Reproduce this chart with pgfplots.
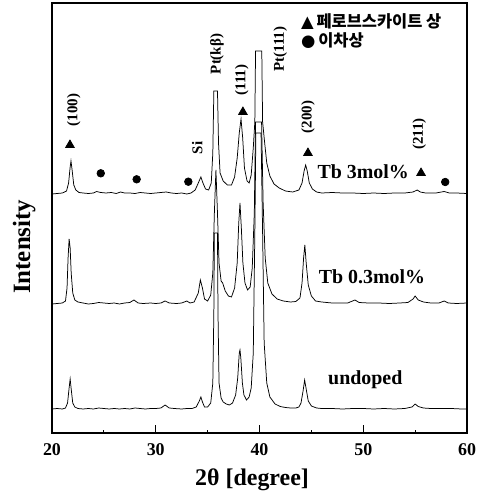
\documentclass[border=0pt]{standalone}
\usepackage{fontspec}
\setmainfont{Liberation Serif}
\newfontfamily\kr{Noto Sans CJK KR}
\newfontfamily\sym{DejaVu Sans}
\usepackage{pgfplots}
\pgfplotsset{compat=1.18}
\begin{document}
\begin{tikzpicture}
\begin{axis}[name=ax,
  width=415bp, height=430bp, scale only axis,
  xmin=20, xmax=60, ymin=0, ymax=430,
  axis line style={line width=1.2pt},
  xtick={20,30,40,50,60}, minor xtick={25,35,45,55},
  xtick pos=bottom, tick align=inside,
  major tick length=8bp, minor tick length=3.5bp,
  tick style={line width=1pt, black},
  ytick=\empty,
  /pgf/number format/assume math mode=true,
  xticklabel style={font=\fontsize{18}{18}\selectfont\bfseries, yshift=-7bp},
  xlabel={2θ [degree]},
  xlabel style={at={(axis description cs:0.482,-0.109)}, anchor=center, font=\fontsize{24}{24}\selectfont\bfseries},
  ylabel={Intensity},
  ylabel style={at={(axis description cs:-0.067,0.433)}, anchor=center, rotate=0, font=\fontsize{25}{25}\selectfont\bfseries},
  every axis plot/.append style={line width=0.75pt, black},
]
% undoped
\addplot[no marks] coordinates {
(20.0,24)(20.5,24.5)(21.0,24)(21.3,25)(21.5,30)(21.65,45)(21.75,54)(21.85,44)(22.0,30)(22.2,26)(22.5,24.5)
(23.0,24)(23.5,24.5)(24.0,24)(24.5,25)(25.0,24.5)(25.5,24)(26.0,24.5)(26.5,24)(27.0,24.5)(27.5,24)(28.0,25)
(28.5,24.5)(29.0,24)(29.5,24.5)(30.0,24.5)(30.5,25)(30.9,28)(31.3,25)(31.8,24.5)(32.5,24)(33.0,24.5)(33.5,24.5)
(33.9,26)(34.2,32)(34.35,36)(34.5,31)(34.7,26)(35.0,26)(35.3,30)(35.5,50)(35.6,120)(35.65,200)(35.95,200)
(36.0,120)(36.1,50)(36.3,35)(36.5,31)(36.8,29)(37.1,28)(37.4,30)(37.7,38)(37.9,55)(38.05,80)(38.12,83)
(38.2,75)(38.35,50)(38.5,38)(38.75,33)(39.0,36)(39.2,45)(39.4,80)(39.55,200)(39.65,300)(40.15,300)(40.3,200)
(40.45,90)(40.7,50)(41.0,36)(41.5,29)(42.0,26.5)(42.5,25.5)(43.0,25)(43.5,25)(43.8,26)(44.0,30)(44.2,42)
(44.35,53)(44.5,44)(44.7,32)(45.0,27)(45.5,25)(46,24.5)(47,24.5)(48,24)(49,24.5)(50,24.5)(51,24)(52,24.5)
(53,24)(54,24.5)(54.7,26)(55.0,29)(55.3,26.5)(55.8,25)(56.5,24.5)(57.5,24.5)(58.5,24.5)(59.5,24)(60,24)
};
% Tb 0.3 mol%
\addplot[no marks] coordinates {
(20.0,129)(20.5,129.5)(21.0,130)(21.3,132)(21.45,145)(21.55,175)(21.65,194)(21.75,185)(21.85,160)(22.0,140)
(22.2,133)(22.5,131)(23.0,130)(23.5,129)(24.0,129.5)(24.5,130.5)(25.0,130)(25.5,129.5)(26.0,130)(26.5,129)
(27.0,130)(27.5,130.5)(27.9,133)(28.3,130)(28.8,129.5)(29.5,130)(30.0,129.5)(30.5,130)(30.9,132)(31.3,130)
(32.0,129.5)(32.5,130)(33.0,132)(33.3,130)(33.7,131)(34.1,140)(34.3,153)(34.5,145)(34.7,134)(35.0,132)
(35.3,138)(35.5,160)(35.65,220)(35.8,263)(35.95,220)(36.1,170)(36.3,152)(36.45,150)(36.7,142)(37.0,137)
(37.3,136)(37.6,145)(37.85,170)(38.0,210)(38.12,230)(38.25,205)(38.4,170)(38.6,150)(38.85,143)(39.1,146)
(39.3,165)(39.5,220)(39.62,311)(40.2,311)(40.35,230)(40.55,175)(40.8,150)(41.2,139)(41.7,134)(42.3,132)
(43.0,131)(43.5,131.5)(43.9,135)(44.1,150)(44.25,175)(44.37,188)(44.5,170)(44.7,148)(45.0,137)(45.4,132)
(46,131)(47,130)(48,130)(48.5,130)(49.2,133)(49.6,130.5)(50.5,130)(51.5,130)(52.5,129.5)(53.5,130)
(54.3,130.5)(54.8,134)(55.0,137)(55.3,133)(55.8,131)(56.5,130)(57.3,130)(57.8,132)(58.2,130)(59,129.5)(60,130)
};
% Tb 3 mol%
\addplot[no marks] coordinates {
(20.0,239)(20.5,239.5)(21.0,240)(21.4,242)(21.6,250)(21.75,266)(21.83,272)(21.95,262)(22.1,248)(22.3,243)
(22.6,240.5)(23.0,240)(23.5,239.5)(24.0,240)(24.3,241.5)(24.7,240.5)(25.2,240)(25.7,240.5)(26.2,239.5)
(26.6,241)(27.0,240)(27.5,240)(28.0,239.5)(28.5,240.5)(29.0,240)(29.5,239.5)(30.0,240)(30.5,240.5)(31.0,241)
(31.5,240)(32.0,239.5)(32.5,240)(33.0,239)(33.4,240)(33.8,243)(34.1,250)(34.35,256)(34.55,250)(34.8,244)
(35.1,243)(35.35,250)(35.5,280)(35.6,342)(35.95,342)(36.05,290)(36.2,260)(36.5,252)(36.9,248)(37.3,248)
(37.6,256)(37.85,275)(38.05,300)(38.22,314)(38.38,295)(38.55,265)(38.8,252)(39.0,250)(39.2,258)(39.4,285)
(39.55,311)(39.62,382)(40.22,382)(40.3,311)(40.5,290)(40.7,270)(41.0,257)(41.4,249)(41.9,245)(42.5,242)
(43.2,241)(43.8,243)(44.1,250)(44.3,262)(44.45,268)(44.6,262)(44.8,250)(45.1,244)(45.5,241)(46,240)
(47,240.5)(48,240)(49,240)(50,239.5)(51,240)(52,239.5)(53,240)(54,240)(54.8,241)(55.2,243)(55.5,241)
(56,240)(57,240)(57.8,241.5)(58.3,240)(59,240)(60,239.5)
};
% perovskite markers
\addplot[only marks, mark=triangle*, mark size=5pt] coordinates {(21.73,288)(38.4,321)(44.67,280)(55.57,260)};
% secondary phase markers
\addplot[only marks, mark=*, mark size=3.8pt] coordinates {(24.7,259.7)(28.16,253.7)(33.14,251.3)(57.9,251)};
% peak labels
\begin{scope}[every node/.style={rotate=90, font=\fontsize{15}{15}\selectfont\bfseries}]
\node at (axis cs:22.1,323) {(100)};
\node at (axis cs:34.0,285) {Si};
\node at (axis cs:35.9,379) {Pt(kβ)};
\node at (axis cs:38.3,353) {(111)};
\node at (axis cs:42.0,384) {Pt(111)};
\node at (axis cs:44.67,316) {(200)};
\node at (axis cs:55.4,299) {(211)};
\end{scope}
\node[font=\fontsize{20}{20}\selectfont\bfseries] at (axis cs:50.0,261) {Tb 3mol\%};
\node[font=\fontsize{20}{20}\selectfont\bfseries] at (axis cs:50.84,156) {Tb 0.3mol\%};
\node[font=\fontsize{20}{20}\selectfont\bfseries] at (axis cs:50.2,53) {undoped};
% legend
\node[anchor=west, inner sep=0pt, font=\fontsize{16.5}{16.5}\selectfont] at (axis cs:44.0,411) {{\sym ▲}\,{\kr\bfseries 페로브스카이트 상}};
\node[anchor=west, inner sep=0pt, font=\fontsize{16.5}{16.5}\selectfont] at (axis cs:44.0,392) {{\sym ●}\,{\kr\bfseries 이차상}};
\end{axis}
\pgfresetboundingbox
\path[use as bounding box] ([xshift=-52bp,yshift=-65bp]ax.south west) rectangle ([xshift=17bp,yshift=3bp]ax.north east);
\end{tikzpicture}
\end{document}
